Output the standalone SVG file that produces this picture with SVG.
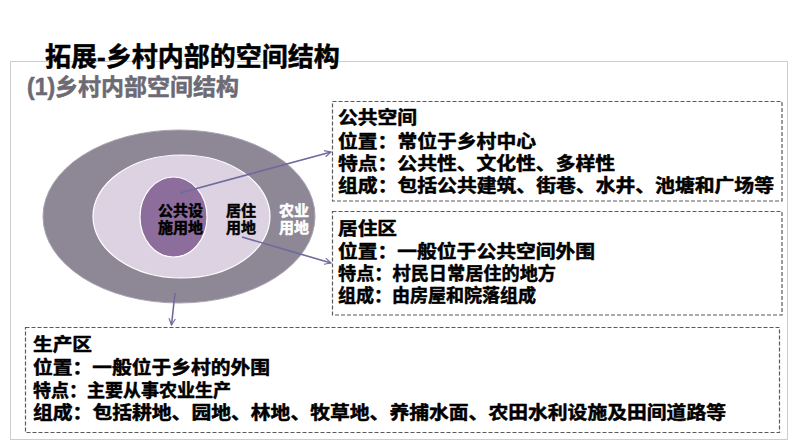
<svg xmlns="http://www.w3.org/2000/svg" width="794" height="447" viewBox="0 0 794 447">
<defs>
<style>
.cjk{font-family:"Liberation Sans","Noto Sans CJK SC",sans-serif;font-weight:bold;stroke-width:0.5;stroke-linejoin:round;}
.box{fill:#ffffff;stroke:#5a5a5a;stroke-width:1.2;stroke-dasharray:4 2;}
.bt{font-size:18px;fill:#000;stroke:#000;}
.lbl{font-size:15px;text-anchor:middle;}
.conn{stroke:#6e6a9c;stroke-width:1.6;fill:none;marker-end:url(#arr);}
</style>
<marker id="arr" viewBox="0 0 10 10" refX="9" refY="5" markerWidth="8" markerHeight="8" markerUnits="userSpaceOnUse" orient="auto">
<path d="M1,1 L9,5 L1,9" fill="none" stroke="#6e6a9c" stroke-width="1.4"/>
</marker>
</defs>
<rect width="794" height="447" fill="#ffffff"/>
<rect x="10.5" y="61.5" width="777" height="378" fill="none" stroke="#9a9a9a" stroke-width="1" stroke-dasharray="1 1"/>
<text class="cjk" x="45" y="66" font-size="26" fill="#000" stroke="#000" stroke-width="0.7">拓展-乡村内部的空间结构</text>
<text class="cjk" x="27" y="95" font-size="23" fill="#6c6a74" stroke="#6c6a74">(1)乡村内部空间结构</text>

<g id="zone-outer">
<ellipse cx="179" cy="216.5" rx="136" ry="86.5" fill="#8e8896" stroke="#aaa4b0" stroke-width="1"/>
<text class="cjk lbl" fill="#ffffff" stroke="#ffffff"><tspan x="294" y="216">农业</tspan><tspan x="294" y="233">用地</tspan></text>
</g>
<g id="zone-middle">
<ellipse cx="181.5" cy="216.5" rx="88.5" ry="61.5" fill="#ddd2e2" stroke="#ffffff" stroke-width="1.2"/>
<text class="cjk lbl" fill="#000" stroke="#000"><tspan x="241" y="216">居住</tspan><tspan x="241" y="233">用地</tspan></text>
</g>
<g id="zone-inner">
<ellipse cx="173.5" cy="217" rx="33.5" ry="40" fill="#8d6d9b" stroke="#ffffff" stroke-width="1.2"/>
<text class="cjk lbl" fill="#000" stroke="#000"><tspan x="180.5" y="216">公共设</tspan><tspan x="180.5" y="233">施用地</tspan></text>
</g>

<g id="connectors">
<line class="conn" x1="180" y1="193" x2="331" y2="152"/>
<line class="conn" x1="242" y1="237" x2="331" y2="263"/>
<line class="conn" x1="175" y1="293" x2="171.5" y2="325"/>
</g>

<g id="box-public">
<rect class="box" x="332.5" y="101.5" width="449.5" height="99.5"/>
<text class="cjk bt" x="338" y="124" textLength="79" lengthAdjust="spacingAndGlyphs">公共空间</text>
<text class="cjk bt" x="338" y="148" textLength="198" lengthAdjust="spacingAndGlyphs">位置：常位于乡村中心</text>
<text class="cjk bt" x="338" y="170" textLength="277" lengthAdjust="spacingAndGlyphs">特点：公共性、文化性、多样性</text>
<text class="cjk bt" x="338" y="192" textLength="436" lengthAdjust="spacingAndGlyphs">组成：包括公共建筑、街巷、水井、池塘和广场等</text>
</g>

<g id="box-residential">
<rect class="box" x="332.5" y="211.5" width="449.5" height="103.5"/>
<text class="cjk bt" x="338" y="235" textLength="59" lengthAdjust="spacingAndGlyphs">居住区</text>
<text class="cjk bt" x="338" y="258" textLength="257" lengthAdjust="spacingAndGlyphs">位置：一般位于公共空间外围</text>
<text class="cjk bt" x="338" y="280" textLength="218" lengthAdjust="spacingAndGlyphs">特点：村民日常居住的地方</text>
<text class="cjk bt" x="338" y="302" textLength="198" lengthAdjust="spacingAndGlyphs">组成：由房屋和院落组成</text>
</g>

<g id="box-production">
<rect class="box" x="25.5" y="327.5" width="754" height="105"/>
<text class="cjk bt" x="33" y="351" textLength="59" lengthAdjust="spacingAndGlyphs">生产区</text>
<text class="cjk bt" x="33" y="374" textLength="237" lengthAdjust="spacingAndGlyphs">位置：一般位于乡村的外围</text>
<text class="cjk bt" x="33" y="397" textLength="198" lengthAdjust="spacingAndGlyphs">特点：主要从事农业生产</text>
<text class="cjk bt" x="33" y="419" textLength="693" lengthAdjust="spacingAndGlyphs">组成：包括耕地、园地、林地、牧草地、养捕水面、农田水利设施及田间道路等</text>
</g>
</svg>
